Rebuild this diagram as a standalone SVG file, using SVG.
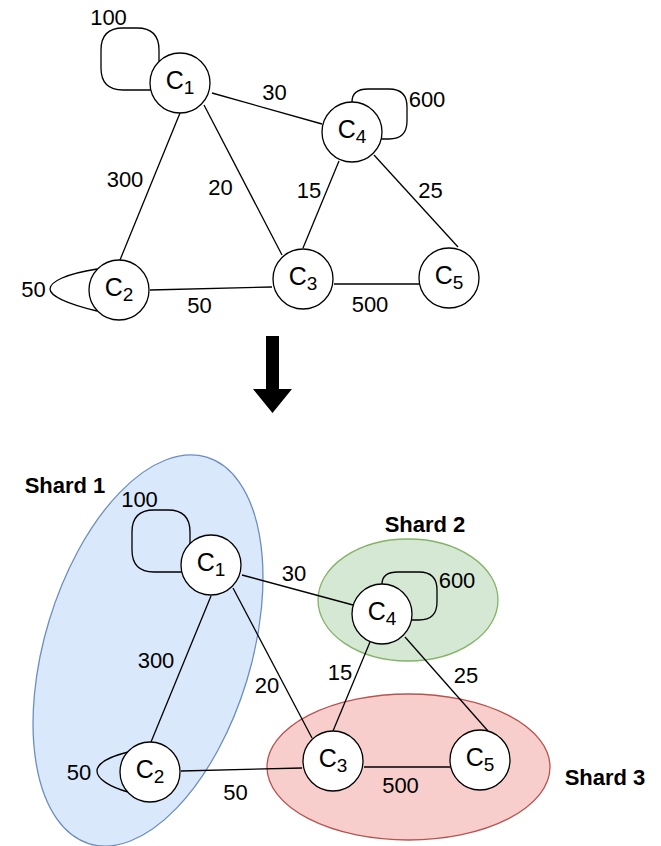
<svg xmlns="http://www.w3.org/2000/svg" width="661" height="846" viewBox="0 0 661 846">
  <style>
    .node circle { fill: #ffffff; stroke: #000000; stroke-width: 1.3; }
    .edge { fill: none; stroke: #000000; stroke-width: 1.3; }
    .lbl { font-family: "Liberation Sans", Arial, Helvetica, sans-serif; font-size: 22px; fill: #000000; text-anchor: middle; }
    .name { font-family: "Liberation Sans", Arial, Helvetica, sans-serif; font-size: 25px; fill: #000000; text-anchor: middle; }
    .sub { font-size: 19px; }
    .shard { font-family: "Liberation Sans", Arial, Helvetica, sans-serif; font-size: 22px; font-weight: bold; fill: #000000; text-anchor: middle; }
  </style>
  <rect width="661" height="846" fill="#ffffff"/>

  <!-- ===== Original graph ===== -->
  <g id="connectors-top">
    <line class="edge" x1="212" y1="93" x2="322" y2="124"/>
    <line class="edge" x1="180" y1="113" x2="120" y2="260"/>
    <line class="edge" x1="204" y1="105" x2="282" y2="255"/>
    <line class="edge" x1="339" y1="161" x2="303" y2="248"/>
    <line class="edge" x1="374" y1="155" x2="458" y2="247"/>
    <line class="edge" x1="150" y1="290" x2="272" y2="287"/>
    <line class="edge" x1="334" y1="284" x2="419" y2="284"/>
    <!-- self loops -->
    <path class="edge" d="M159 62 L159 50 Q159 28 137 28 L123 28 Q101 28 101 50 L101 68 Q101 90 123 90 L151 90"/>
    <path class="edge" d="M352 102 Q352 89 368 89 L389 89 Q407 89 407 107 L407 121 Q407 139 389 139 L381 139"/>
    <path class="edge" d="M97 269 C65 274 50 282 50 289 C50 296 68 304 97 311"/>
  </g>

  <g id="top-c1" class="node"><circle cx="180" cy="83" r="30"/><text class="name" x="180" y="89">C<tspan class="sub" dy="5">1</tspan></text></g>
  <g id="top-c2" class="node"><circle cx="119" cy="290" r="30"/><text class="name" x="119" y="296">C<tspan class="sub" dy="5">2</tspan></text></g>
  <g id="top-c3" class="node"><circle cx="303" cy="279" r="30"/><text class="name" x="303" y="285">C<tspan class="sub" dy="5">3</tspan></text></g>
  <g id="top-c4" class="node"><circle cx="352" cy="132" r="30"/><text class="name" x="352" y="138">C<tspan class="sub" dy="5">4</tspan></text></g>
  <g id="top-c5" class="node"><circle cx="449" cy="278" r="30"/><text class="name" x="449" y="284">C<tspan class="sub" dy="5">5</tspan></text></g>

  <g id="top-labels">
    <text class="lbl" x="108.5" y="25">100</text>
    <text class="lbl" x="427" y="107">600</text>
    <text class="lbl" x="33.5" y="297">50</text>
    <text class="lbl" x="274.5" y="100">30</text>
    <text class="lbl" x="125" y="187">300</text>
    <text class="lbl" x="220.5" y="195">20</text>
    <text class="lbl" x="309" y="198">15</text>
    <text class="lbl" x="430.5" y="198">25</text>
    <text class="lbl" x="199.5" y="313">50</text>
    <text class="lbl" x="370" y="312">500</text>
  </g>

  <!-- transition arrow -->
  <polygon id="arrow" points="266,336 279,336 279,389 292,389 272.5,413 253,389 266,389" fill="#000000"/>

  <!-- ===== Sharded graph ===== -->
  <g id="shard-1">
    <ellipse cx="148" cy="650.5" rx="103.3" ry="202" transform="rotate(16.9 148 650.5)" fill="#dae8fc" stroke="#6c8ebf" stroke-width="1.3"/>
    <text class="shard" x="65" y="493">Shard 1</text>
  </g>
  <g id="shard-2">
    <ellipse cx="408" cy="600" rx="90" ry="61" fill="#d5e8d4" stroke="#82b366" stroke-width="1.3"/>
    <text class="shard" x="425" y="532">Shard 2</text>
  </g>
  <g id="shard-3">
    <ellipse cx="408.5" cy="767" rx="141.5" ry="73" fill="#f8cecc" stroke="#b85450" stroke-width="1.3"/>
    <text class="shard" x="605" y="785">Shard 3</text>
  </g>

  <g id="connectors-bottom">
    <line class="edge" x1="242" y1="575" x2="353" y2="605"/>
    <line class="edge" x1="211" y1="596" x2="151" y2="742"/>
    <line class="edge" x1="233" y1="588" x2="312" y2="738"/>
    <line class="edge" x1="370" y1="642" x2="333" y2="731"/>
    <line class="edge" x1="405" y1="637" x2="488" y2="731"/>
    <line class="edge" x1="181" y1="771" x2="302" y2="768"/>
    <line class="edge" x1="364" y1="767" x2="450" y2="767"/>
    <!-- self loops -->
    <path class="edge" d="M190 544 L190 532 Q190 510 168 510 L154 510 Q132 510 132 532 L132 550 Q132 572 154 572 L182 572"/>
    <path class="edge" d="M382 584 Q382 572 398 572 L419 572 Q437 572 437 590 L437 602 Q437 620 419 620 L411 620"/>
    <path class="edge" d="M128 752 C108 757 97 764 97 771 C97 779 110 787 128 792"/>
  </g>

  <g id="bottom-c1" class="node"><circle cx="211" cy="565" r="30"/><text class="name" x="211" y="571">C<tspan class="sub" dy="5">1</tspan></text></g>
  <g id="bottom-c2" class="node"><circle cx="150" cy="772" r="30"/><text class="name" x="150" y="778">C<tspan class="sub" dy="5">2</tspan></text></g>
  <g id="bottom-c3" class="node"><circle cx="333" cy="761" r="30"/><text class="name" x="333" y="767">C<tspan class="sub" dy="5">3</tspan></text></g>
  <g id="bottom-c4" class="node"><circle cx="382" cy="614" r="30"/><text class="name" x="382" y="620">C<tspan class="sub" dy="5">4</tspan></text></g>
  <g id="bottom-c5" class="node"><circle cx="480" cy="760" r="30"/><text class="name" x="480" y="766">C<tspan class="sub" dy="5">5</tspan></text></g>

  <g id="bottom-labels">
    <text class="lbl" x="139.5" y="507">100</text>
    <text class="lbl" x="457" y="588">600</text>
    <text class="lbl" x="79" y="780">50</text>
    <text class="lbl" x="294" y="581">30</text>
    <text class="lbl" x="156" y="668">300</text>
    <text class="lbl" x="267" y="693">20</text>
    <text class="lbl" x="340" y="680">15</text>
    <text class="lbl" x="466" y="683">25</text>
    <text class="lbl" x="235.5" y="800">50</text>
    <text class="lbl" x="400.5" y="793">500</text>
  </g>
</svg>
